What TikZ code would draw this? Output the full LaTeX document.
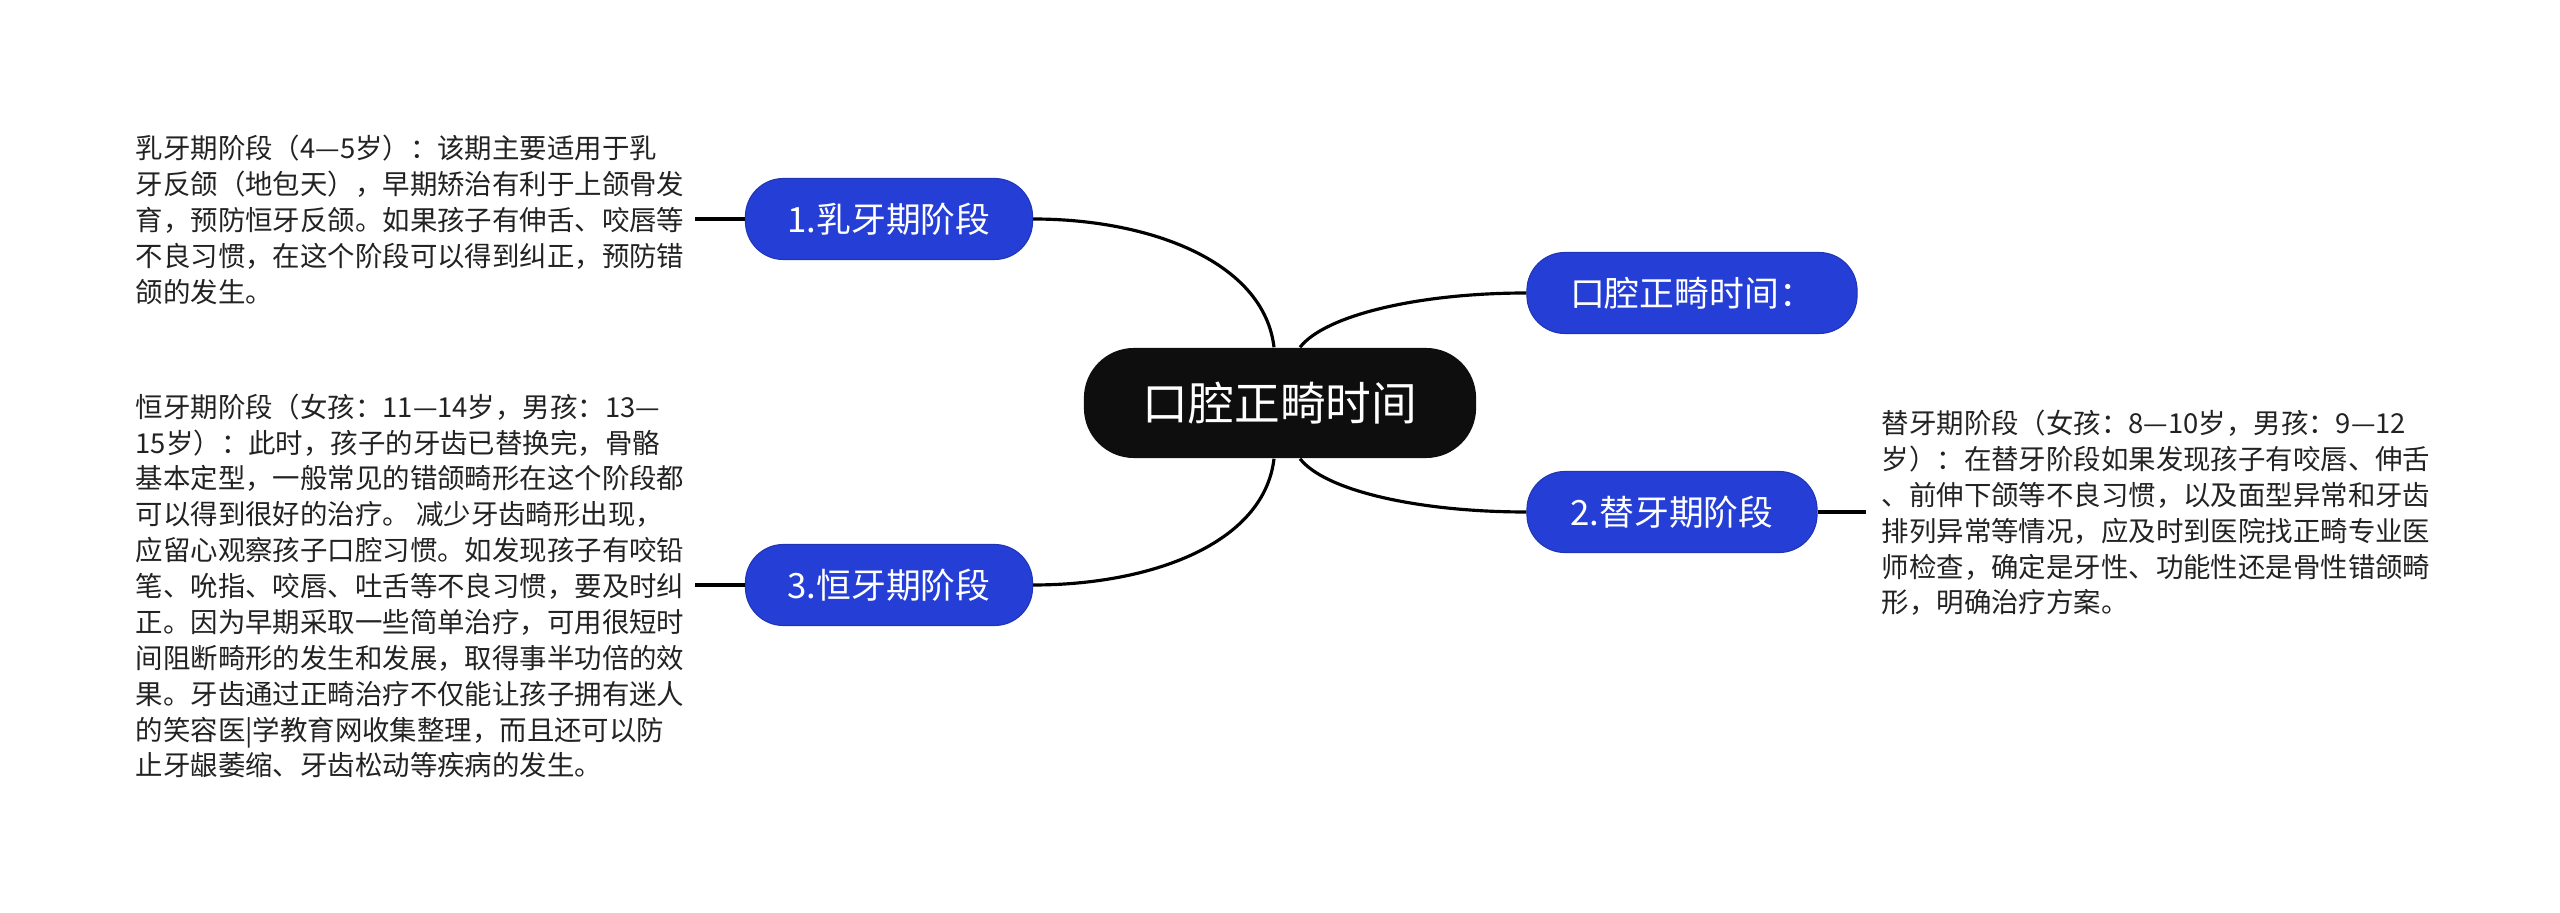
\documentclass[tikz,border=0pt]{standalone}
\usepackage{fontspec}
\setmainfont{Noto Sans CJK SC}
\usepackage{xcolor}
\usepackage{tikz}
\usetikzlibrary{positioning, calc}

\definecolor{nodeblue}{RGB}{36,62,214}
\definecolor{rootblack}{RGB}{14,14,14}
\definecolor{textgray}{RGB}{34,34,34}

\begin{document}
\begin{tikzpicture}[
    x=0.01cm, y=-0.01cm,
    every node/.style={align=center},
    centre/.style={rectangle, fill=rootblack, text=white, minimum width=3.92cm, minimum height=1.1cm, rounded corners=0.5cm, font=\fontsize{13pt}{15pt}\selectfont},
    branch/.style={rectangle, fill=nodeblue, draw=nodeblue!85!black, line width=0.3pt, text=white, minimum height=0.81cm, rounded corners=0.38cm, font=\fontsize{9.9pt}{12pt}\selectfont},
    note/.style={align=left, anchor=west, inner xsep=0.1cm, inner ysep=0pt, text=textgray, font=\fontsize{7.8pt}{10.2pt}\selectfont},
    link/.style={line width=0.9pt, black}
]
\useasboundingbox (0,0) rectangle (2560,913);

% Central topic
\node (root) [centre] at (1280,403) {口腔正畸时间};

% Branches
\node (early) [branch, minimum width=2.87cm] at (889,219) {1.乳牙期阶段};
\node (intro) [branch, minimum width=3.3cm] at (1692,293) {口腔正畸时间：};
\node (mixed) [branch, minimum width=2.9cm] at (1672,512) {2.替牙期阶段};
\node (perm) [branch, minimum width=2.87cm] at (889,585) {3.恒牙期阶段};

% Notes
\node (earlytxt) [note] at (125,220) {乳牙期阶段（4—5岁）：该期主要适用于乳\\
牙反颌（地包天），早期矫治有利于上颌骨发\\
育，预防恒牙反颌。如果孩子有伸舌、咬唇等\\
不良习惯，在这个阶段可以得到纠正，预防错\\
颌的发生。};

\node (permtxt) [note] at (125,586) {恒牙期阶段（女孩：11—14岁，男孩：13—\\
15岁）：此时，孩子的牙齿已替换完，骨骼\\
基本定型，一般常见的错颌畸形在这个阶段都\\
可以得到很好的治疗。 减少牙齿畸形出现，\\
应留心观察孩子口腔习惯。如发现孩子有咬铅\\
笔、吮指、咬唇、吐舌等不良习惯，要及时纠\\
正。因为早期采取一些简单治疗，可用很短时\\
间阻断畸形的发生和发展，取得事半功倍的效\\
果。牙齿通过正畸治疗不仅能让孩子拥有迷人\\
的笑容医|学教育网收集整理，而且还可以防\\
止牙龈萎缩、牙齿松动等疾病的发生。};

\node (mixedtxt) [note, inner xsep=0.15cm] at (1866,513) {替牙期阶段（女孩：8—10岁，男孩：9—12\\
岁）：在替牙阶段如果发现孩子有咬唇、伸舌\\
、前伸下颌等不良习惯，以及面型异常和牙齿\\
排列异常等情况，应及时到医院找正畸专业医\\
师检查，确定是牙性、功能性还是骨性错颌畸\\
形，明确治疗方案。};

% Curved links from the centre
\draw [link] ([xshift=-0.06cm]root.north) .. controls +(-10,-85) and +(118,0) .. (early.east);
\draw [link] ([xshift=0.2cm]root.north) .. controls +(25,-32) and +(-108,0) .. (intro.west);
\draw [link] ([xshift=0.2cm]root.south) .. controls +(25,32) and +(-108,0) .. (mixed.west);
\draw [link] ([xshift=-0.06cm]root.south) .. controls +(-10,85) and +(118,0) .. (perm.east);

% Short links to the notes
\draw [link] (early.west) -- (early.west -| earlytxt.east);
\draw [link] (perm.west) -- (perm.west -| permtxt.east);
\draw [link] (mixed.east) -- (mixed.east -| mixedtxt.west);

\end{tikzpicture}
\end{document}
